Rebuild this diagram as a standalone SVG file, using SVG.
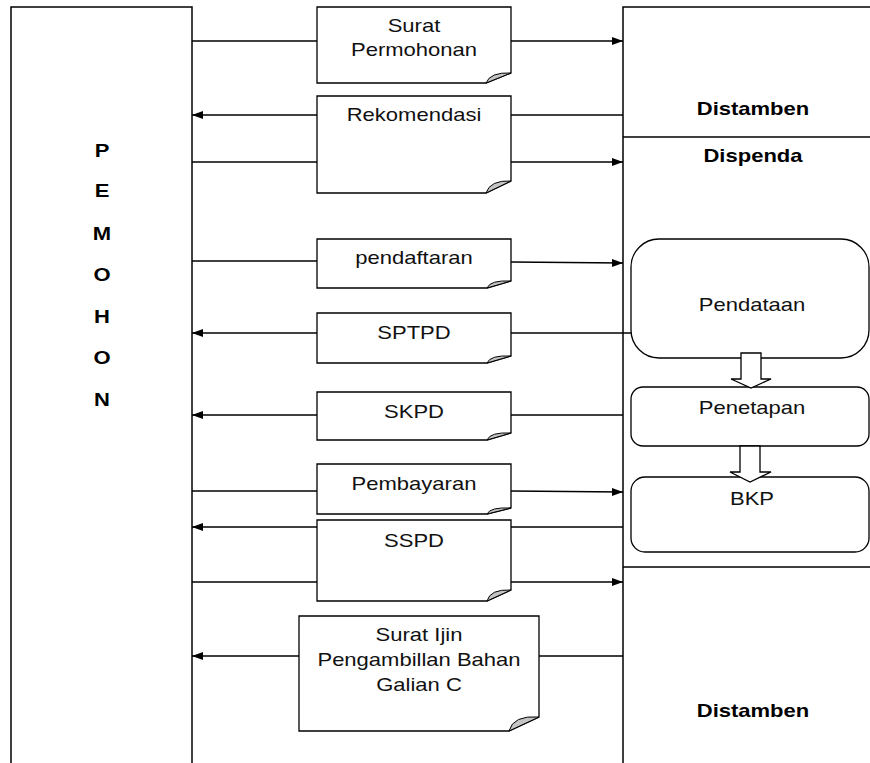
<svg xmlns="http://www.w3.org/2000/svg" width="870" height="763" viewBox="0 0 870 763">
<style>
.t{font-family:"Liberation Sans",Arial,sans-serif;font-size:18.5px;text-anchor:middle;fill:#111}
.b{font-family:"Liberation Sans",Arial,sans-serif;font-size:18.5px;font-weight:bold;text-anchor:middle;fill:#000}
.frame{fill:none;stroke:#000;stroke-width:1.5}
.doc{fill:#fff;stroke:#000;stroke-width:1.3}
.fold{fill:#c4c4c4;stroke:#000;stroke-width:1}
.box{fill:#fff;stroke:#000;stroke-width:1.3}
.conn{fill:none;stroke:#000;stroke-width:1.5}
.arr{marker-end:url(#ah)}
.blk{fill:#fff;stroke:#000;stroke-width:1.3}
</style>
<defs>
<marker id="ah" markerUnits="userSpaceOnUse" markerWidth="12" markerHeight="10" viewBox="0 0 12 10" refX="11" refY="5" orient="auto">
<path d="M0 1 L11 5 L0 9 Z" fill="#000"/>
</marker>
</defs>
<rect width="870" height="763" fill="#fff"/>

<g id="pemohon">
<path class="frame" d="M11 763 V7 H192 V763"/>
<text class="b" transform="translate(102 157) scale(1.19 1)">P</text>
<text class="b" transform="translate(102 197) scale(1.19 1)">E</text>
<text class="b" transform="translate(102 240) scale(1.19 1)">M</text>
<text class="b" transform="translate(102 281) scale(1.19 1)">O</text>
<text class="b" transform="translate(102 323) scale(1.19 1)">H</text>
<text class="b" transform="translate(102 364) scale(1.19 1)">O</text>
<text class="b" transform="translate(102 406) scale(1.19 1)">N</text>
</g>

<g id="instansi">
<path class="frame" d="M623 763 V7 H870"/>
<path class="frame" d="M623 137 H870"/>
<path class="frame" d="M623 567 H870"/>
</g>
<g id="distamben-top"><text class="b" transform="translate(753 115) scale(1.19 1)">Distamben</text></g>
<g id="dispenda"><text class="b" transform="translate(753 162) scale(1.19 1)">Dispenda</text></g>
<g id="distamben-bottom"><text class="b" transform="translate(753 717) scale(1.19 1)">Distamben</text></g>

<g id="connectors">
<path class="conn" d="M192 41 H317"/>
<path class="conn arr" d="M511 41 H623"/>
<path class="conn" d="M623 115 H511"/>
<path class="conn arr" d="M317 115 H192"/>
<path class="conn" d="M192 162 H317"/>
<path class="conn arr" d="M511 162 H623"/>
<path class="conn" d="M192 261 H317"/>
<path class="conn arr" d="M511 262 L623 263"/>
<path class="conn" d="M631 333 H511"/>
<path class="conn arr" d="M317 333 H192"/>
<path class="conn" d="M623 415 H511"/>
<path class="conn arr" d="M317 415 H192"/>
<path class="conn" d="M192 491 H317"/>
<path class="conn arr" d="M511 491 L623 492"/>
<path class="conn" d="M623 527 H511"/>
<path class="conn arr" d="M317 527 H192"/>
<path class="conn" d="M192 582 H317"/>
<path class="conn arr" d="M511 582 H623"/>
<path class="conn" d="M623 656 H539"/>
<path class="conn arr" d="M299 656 H192"/>
</g>

<g id="doc-surat-permohonan">
<path class="doc" d="M317 7 H511 V73 L486 83 H317 Z"/>
<path class="fold" d="M486 83 Q490 72 511 73 Z"/>
<text class="t" transform="translate(414 31.7) scale(1.19 1)">Surat</text>
<text class="t" transform="translate(414 56) scale(1.19 1)">Permohonan</text>
</g>
<g id="doc-rekomendasi">
<path class="doc" d="M317 96 H511 V181 L486 193 H317 Z"/>
<path class="fold" d="M486 193 Q490 180 511 181 Z"/>
<text class="t" transform="translate(414 120.7) scale(1.19 1)">Rekomendasi</text>
</g>
<g id="doc-pendaftaran">
<path class="doc" d="M317 239 H511 V281 L487 288 H317 Z"/>
<path class="fold" d="M487 288 Q490 280 511 281 Z"/>
<text class="t" transform="translate(414 264.3) scale(1.19 1)">pendaftaran</text>
</g>
<g id="doc-sptpd">
<path class="doc" d="M317 313 H511 V356 L487 363 H317 Z"/>
<path class="fold" d="M487 363 Q490 355 511 356 Z"/>
<text class="t" transform="translate(414 339) scale(1.19 1)">SPTPD</text>
</g>
<g id="doc-skpd">
<path class="doc" d="M317 392 H511 V433 L487 440 H317 Z"/>
<path class="fold" d="M487 440 Q490 432 511 433 Z"/>
<text class="t" transform="translate(414 418.3) scale(1.19 1)">SKPD</text>
</g>
<g id="doc-pembayaran">
<path class="doc" d="M317 464 H511 V508 L487 514 H317 Z"/>
<path class="fold" d="M487 514 Q490 507 511 508 Z"/>
<text class="t" transform="translate(414 490) scale(1.19 1)">Pembayaran</text>
</g>
<g id="doc-sspd">
<path class="doc" d="M317 520 H511 V590 L487 601 H317 Z"/>
<path class="fold" d="M487 601 Q490 589 511 590 Z"/>
<text class="t" transform="translate(414 546.5) scale(1.19 1)">SSPD</text>
</g>
<g id="doc-surat-ijin">
<path class="doc" d="M299 616 H539 V717 L509 731 H299 Z"/>
<path class="fold" d="M509 731 Q513 715 539 717 Z"/>
<text class="t" transform="translate(419 641) scale(1.19 1)">Surat Ijin</text>
<text class="t" transform="translate(419 666) scale(1.19 1)">Pengambillan Bahan</text>
<text class="t" transform="translate(419 691) scale(1.19 1)">Galian C</text>
</g>

<g id="pendataan">
<rect class="box" x="631" y="239" width="238" height="119" rx="28" ry="28"/>
<text class="t" transform="translate(752 310.7) scale(1.19 1)">Pendataan</text>
</g>
<g id="penetapan">
<rect class="box" x="631" y="387" width="238" height="59" rx="12" ry="12"/>
<text class="t" transform="translate(752 414) scale(1.19 1)">Penetapan</text>
</g>
<g id="bkp">
<rect class="box" x="631" y="477" width="238" height="75" rx="14" ry="14"/>
<text class="t" transform="translate(752 505) scale(1.19 1)">BKP</text>
</g>

<g id="block-arrows">
<polygon class="blk" points="741,353 761,353 761,379 771,379 751,388 731,379 741,379"/>
<polygon class="blk" points="740,446 760,446 760,472 771,472 750,482 730,472 740,472"/>
</g>
</svg>
